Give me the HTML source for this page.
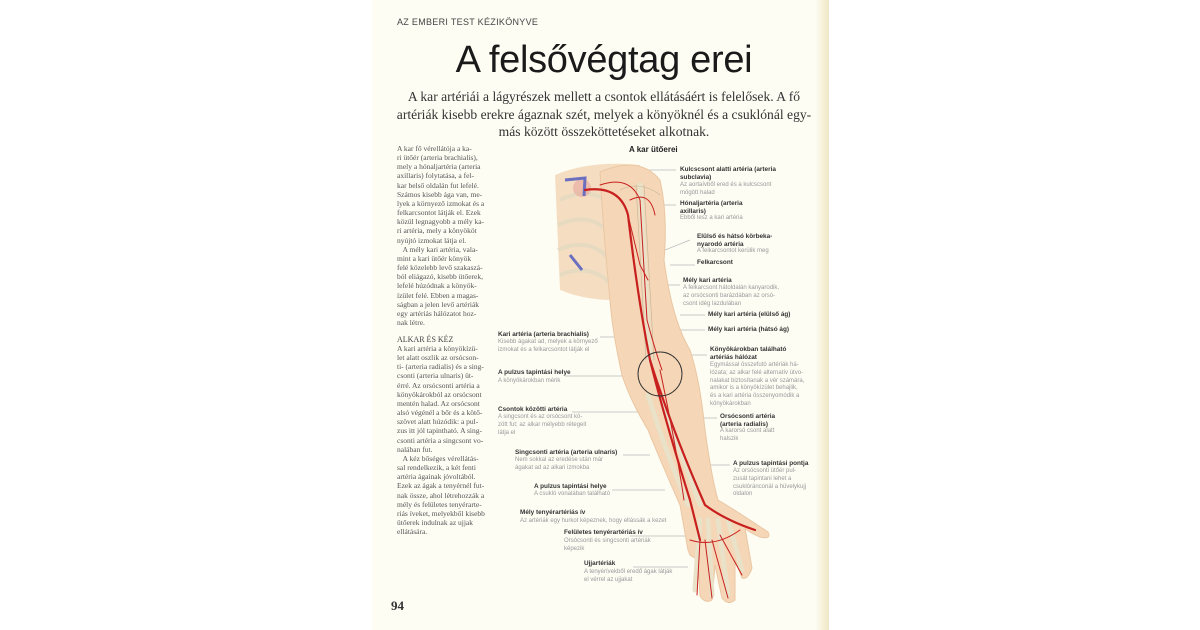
<!DOCTYPE html>
<html><head><meta charset="utf-8"><style>
body{margin:0;width:1200px;height:630px;background:#fff;position:relative;overflow:hidden;font-family:"Liberation Sans",sans-serif}
.page{position:absolute;left:372px;top:0;width:457px;height:630px;background:#fdfdf4}
.edge{position:absolute;left:815px;top:0;width:14px;height:630px;background:linear-gradient(90deg,#fdfdf4,#f6f0d6 60%,#efe7c7)}
.t{position:absolute;white-space:nowrap}
.lc{position:absolute;left:397px;font-family:"Liberation Serif",serif;font-size:7.5px;color:#555;line-height:9.15px;white-space:nowrap}
.b{font-family:"Liberation Sans",sans-serif;font-weight:bold;font-size:6.4px;color:#333;position:absolute;white-space:nowrap;line-height:7.8px}
.g{font-family:"Liberation Sans",sans-serif;font-size:6px;color:#999;position:absolute;white-space:nowrap;line-height:7.8px}
</style></head><body>
<div class="page"></div><div class="edge"></div>
<div class="t" style="left:397px;top:17px;font-size:9px;color:#444;letter-spacing:.3px">AZ EMBERI TEST KÉZIKÖNYVE</div>
<div class="t" style="left:372px;width:464px;text-align:center;top:39px;font-size:38px;color:#1a1a1a;font-family:'Liberation Sans',sans-serif;letter-spacing:-0.3px">A felsővégtag erei</div>
<div class="t" style="left:380px;width:448px;text-align:center;top:88px;font-family:'Liberation Serif',serif;font-size:13.6px;line-height:17.5px;color:#333;white-space:nowrap">A kar artériái a lágyrészek mellett a csontok ellátásáért is felelősek. A fő<br>artériák kisebb erekre ágaznak szét, melyek a könyöknél és a csuklónál egy-<br>más között összeköttetéseket alkotnak.</div>
<div class="t" style="left:629px;top:145px;font-size:8px;font-weight:bold;color:#222">A kar ütőerei</div>
<div class="lc" style="top:144px">A kar fő vérellátója a ka-<br>ri ütőér (arteria brachialis),<br>mely a hónaljartéria (arteria<br>axillaris) folytatása, a fel-<br>kar belső oldalán fut lefelé.<br>Számos kisebb ága van, me-<br>lyek a környező izmokat és a<br>felkarcsontot látják el. Ezek<br>közül legnagyobb a mély ka-<br>ri artéria, mely a könyököt<br>nyújtó izmokat látja el.<br>&nbsp;&nbsp;&nbsp;A mély kari artéria, vala-<br>mint a kari ütőér könyök<br>felé közelebb levő szakaszá-<br>ból eliágazó, kisebb ütőerek,<br>lefelé húzódnak a könyök-<br>ízület felé. Ebben a magas-<br>ságban a jelen levő artériák<br>egy artériás hálózatot hoz-<br>nak létre.</div>
<div class="lc" style="top:335px;color:#444;font-size:8px">ALKAR ÉS KÉZ</div>
<div class="lc" style="top:344px">A kari artéria a könyökízü-<br>let alatt oszlik az orsócson-<br>ti- (arteria radialis) és a sing-<br>csonti (arteria ulnaris) üt-<br>érré. Az orsócsonti artéria a<br>könyökárokból az orsócsont<br>mentén halad. Az orsócsont<br>alsó végénél a bőr és a kötő-<br>szövet alatt húzódik: a pul-<br>zus itt jól tapintható. A sing-<br>csonti artéria a singcsont vo-<br>nalában fut.<br>&nbsp;&nbsp;&nbsp;A kéz bőséges vérellátás-<br>sal rendelkezik, a két fenti<br>artéria ágainak jóvoltából.<br>Ezek az ágak a tenyérnél fut-<br>nak össze, ahol létrehozzák a<br>mély és felületes tenyérarte-<br>riás íveket, melyekből kisebb<br>ütőerek indulnak az ujjak<br>ellátására.</div>
<div class="t" style="left:391px;top:598px;font-family:'Liberation Serif',serif;font-weight:bold;font-size:13px;color:#333">94</div>

<svg style="position:absolute;left:0;top:0" width="1200" height="630">
<g fill="none" stroke="#bbb" stroke-width="0.7">
<path d="M610 170 H676"/><path d="M640 205 H676"/><path d="M640 260 L690 240"/><path d="M670 265 H695"/><path d="M650 285 H680"/><path d="M680 315 H705"/><path d="M675 330 H705"/>
<path d="M690 355 H707"/><path d="M690 418 H717"/><path d="M705 465 H730"/>
<path d="M600 337 H640"/><path d="M565 376 H640"/><path d="M572 412 H655"/><path d="M623 455 H650"/><path d="M612 490 H665"/><path d="M684 516 V525 H690"/><path d="M630 536 H690"/><path d="M633 567 H688"/>
</g>
<path d="M555 175 Q590 160 640 165 L612 300 Q585 300 560 290 Z" fill="#f5ddc2"/>
<g fill="none" stroke="#e6dac0" stroke-width="4">
<path d="M560 200 Q590 185 612 205"/><path d="M558 225 Q590 210 612 235"/><path d="M558 250 Q590 235 612 262"/><path d="M560 275 Q590 262 612 285"/>
</g>
<path d="M600 172 Q640 155 660 180 Q668 215 664 260 Q672 320 690 350 Q700 380 705 430 Q712 480 718 500 Q735 510 768 532 Q772 540 760 537 Q748 532 745 528 L752 568 Q748 580 742 578 L735 560 L735 600 Q728 606 722 598 L715 565 L712 600 Q705 604 700 596 L698 560 L690 555 L688 550 L680 505 Q660 460 648 430 Q630 400 622 375 Q612 330 610 300 Q604 240 600 172 Z" fill="#f5d6b6" stroke="#ebc7a3" stroke-width="1"/>
<g fill="none" stroke="#e9e1c8" stroke-width="5" stroke-linecap="round">
<path d="M640 185 Q645 270 650 360"/><path d="M660 395 Q680 450 700 505"/><path d="M648 395 Q665 450 688 505"/>
<path d="M700 520 L695 590"/><path d="M708 520 L712 595"/><path d="M718 520 L728 595"/><path d="M728 520 L742 570"/>
</g>
<g fill="none" stroke="#bfb59a" stroke-width="0.6">
<path d="M636 185 Q641 270 646 360"/><path d="M644 185 Q649 270 654 360"/><path d="M620 190 Q640 180 660 195"/>
</g>
<circle cx="582" cy="188" r="9" fill="#e8a69c" opacity=".6"/>
<path d="M565 180 L585 178 L584 196" stroke="#6a6fc0" stroke-width="3" fill="none"/>
<path d="M570 255 L582 270" stroke="#6a6fc0" stroke-width="3"/>
<g fill="none" stroke="#c8201f" stroke-width="2.2" stroke-linecap="round">
<path d="M585 190 Q620 185 628 215 Q638 300 650 360 Q665 420 690 500 L700 540"/>
<path d="M650 360 Q672 430 705 505 Q725 520 755 530"/>
</g>
<g fill="none" stroke="#c8201f" stroke-width="1" stroke-linecap="round">
<path d="M600 185 Q630 175 640 200 L647 320 Q655 350 662 370"/>
<path d="M628 215 L640 265 L648 280"/><path d="M630 200 Q650 190 655 215"/>
<path d="M660 370 Q675 440 684 500"/><path d="M700 540 L697 595"/><path d="M705 540 L712 598"/><path d="M712 540 L728 598"/><path d="M720 535 L742 575"/>
<path d="M690 540 Q715 548 740 530"/>
</g>
<circle cx="660" cy="374" r="22" fill="none" stroke="#333" stroke-width="1"/>
</svg>

<div class="b" style="left:680px;top:166px">Kulcscsont alatti artéria (arteria<br>subclavia)</div>
<div class="g" style="left:680px;top:182px">Az aortaívből ered és a kulcscsont<br>mögött halad</div>
<div class="b" style="left:680px;top:200px">Hónaljartéria (arteria<br>axillaris)</div>
<div class="g" style="left:680px;top:215px">Ebből lesz a kari artéria</div>
<div class="b" style="left:697px;top:233px">Elülső és hátsó körbeka-<br>nyarodó artéria</div>
<div class="g" style="left:697px;top:248px">A felkarcsontot kerülik meg</div>
<div class="b" style="left:697px;top:259px">Felkarcsont</div>
<div class="b" style="left:683px;top:277px">Mély kari artéria</div>
<div class="g" style="left:683px;top:285px">A felkarcsont hátoldalán kanyarodik,<br>az orsócsonti barázdában az orsó-<br>csont idég lazdulában</div>
<div class="b" style="left:708px;top:311px">Mély kari artéria (elülső ág)</div>
<div class="b" style="left:708px;top:326px">Mély kari artéria (hátsó ág)</div>
<div class="b" style="left:710px;top:346px">Könyökárokban található<br>artériás hálózat</div>
<div class="g" style="left:710px;top:362px">Egymással összefutó artériák há-<br>lózata; az alkar felé alternatív útvo-<br>nalakat biztosítanak a vér számára,<br>amikor is a könyökízület behajlik,<br>és a kari artéria összenyomódik a<br>könyökárokban</div>
<div class="b" style="left:720px;top:413px">Orsócsonti artéria<br>(arteria radialis)</div>
<div class="g" style="left:720px;top:428px">A karorsó csont alatt<br>halszik</div>
<div class="b" style="left:733px;top:460px">A pulzus tapintási pontja</div>
<div class="g" style="left:733px;top:468px">Az orsócsonti ütőér pul-<br>zusát tapintani lehet a<br>csuklóránconál a hüvelykujj<br>oldalon</div>
<div class="b" style="left:498px;top:331px">Kari artéria (arteria brachialis)</div>
<div class="g" style="left:498px;top:339px">Kisebb ágakat ad, melyek a környező<br>izmokat és a felkarcsontot látják el</div>
<div class="b" style="left:498px;top:369px">A pulzus tapintási helye</div>
<div class="g" style="left:498px;top:378px">A könyökárokban mérik</div>
<div class="b" style="left:498px;top:406px">Csontok közötti artéria</div>
<div class="g" style="left:498px;top:414px">A singcsont és az orsócsont kö-<br>zött fut; az alkar mélyebb rétegeit<br>látja el</div>
<div class="b" style="left:515px;top:449px">Singcsonti artéria (arteria ulnaris)</div>
<div class="g" style="left:515px;top:457px">Nem sokkal az eredése után már<br>ágakat ad az alkari izmokba</div>
<div class="b" style="left:534px;top:483px">A pulzus tapintási helye</div>
<div class="g" style="left:534px;top:491px">A csukló vonalában található</div>
<div class="b" style="left:520px;top:509px">Mély tenyérartériás ív</div>
<div class="g" style="left:520px;top:518px">Az artériák egy hurkot képeznek, hogy ellássák a kezet</div>
<div class="b" style="left:564px;top:529px">Felületes tenyérartériás ív</div>
<div class="g" style="left:564px;top:538px">Orsócsonti és singcsonti artériák<br>képezik</div>
<div class="b" style="left:584px;top:560px">Ujjartériák</div>
<div class="g" style="left:584px;top:569px">A tenyérívekből eredő ágak látják<br>el vérrel az ujjakat</div>
</body></html>
